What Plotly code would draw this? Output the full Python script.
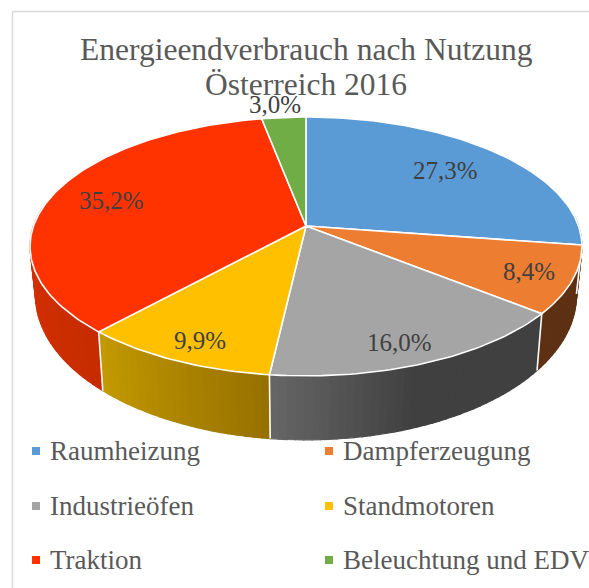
import numpy as np
import plotly.graph_objects as go

# ---- data ----
categories = ["Raumheizung", "Dampferzeugung", "Industrieöfen", "Standmotoren", "Traktion", "Beleuchtung und EDV"]
values = [27.3, 8.4, 16.0, 9.9, 35.2, 3.0]
title_lines = ["Energieendverbrauch nach Nutzung", "Österreich 2016"]

# ---- styles ----
top_colors = ["#5B9BD5", "#ED7D31", "#A5A5A5", "#FFC000", "#FF3300", "#70AD47"]
side_start = ["#375D80", "#5E3114", "#404040", "#967000", "#C62C00", "#43682B"]   # clockwise start of slice
side_end = ["#375D80", "#5E3114", "#666666", "#C49A00", "#D83200", "#43682B"]     # clockwise end of slice
label_pos = [(445.5, 170), (528.5, 271), (399.5, 342), (200, 340), (111, 200), (274.5, 104)]
title_pos = [(306, 49), (306, 84)]
legend_x = [36, 329]
legend_y = [451, 506, 560]
TEXT = "#595959"
LABEL = "#404040"
FONT = "Liberation Serif"

# projection of the tilted disc
CX, CY, R, B, K = 306.0, 226.0, 272.5, 126.2, 0.158
F, G, D = 0.98, 1.116, 46.6


def top(t):
    X, Y = np.sin(t), -np.cos(t)
    s = 1 / (1 - K * Y)
    return CX + R * X * s, CY + B * Y * s


def bottom(t):
    X, Y = np.sin(t), -np.cos(t)
    s = 1 / (1 - K * Y)
    return CX + F * R * X * s, CY + D + G * B * Y * s


def hexrgb(h):
    return np.array([int(h[i:i + 2], 16) for i in (1, 3, 5)], float)


def mix(a, b, u):
    c = hexrgb(a) * (1 - u) + hexrgb(b) * u
    return "rgb(%d,%d,%d)" % tuple(c.round())


fig = go.Figure()


def poly(xs, ys, color, line=None, width=1.2):
    fig.add_trace(go.Scatter(x=list(xs), y=list(ys), mode="lines", fill="toself", fillcolor=color,
                             line=dict(color=line or color, width=width), hoverinfo="skip", showlegend=False))


frac = np.array(values) / sum(values)
edges = np.concatenate([[0], np.cumsum(frac)]) * 2 * np.pi
FRONT_A, FRONT_B = np.radians(84), np.radians(279)

# side wall, painted as thin shaded strips
for i in range(len(values)):
    a, b = max(edges[i], FRONT_A), min(edges[i + 1], FRONT_B)
    if b <= a:
        continue
    n = max(2, int(np.degrees(b - a) / 1.5))
    ts = np.linspace(a, b, n + 1)
    for j in range(n):
        u = (j + 0.5) / n
        if i == 2:
            u = max(0.0, (u - 0.55) / 0.45)
        tt = np.linspace(ts[j], ts[j + 1], 3)
        x1, y1 = top(tt)
        x2, y2 = bottom(tt[::-1])
        poly(np.r_[x1, x2, x1[0]], np.r_[y1, y2, y1[0]], mix(side_start[i], side_end[i], u))

# white dividers on the side wall
for e in edges[1:-1]:
    if FRONT_A < e < FRONT_B:
        x1, y1 = top(e)
        x2, y2 = bottom(e)
        fig.add_trace(go.Scatter(x=[x1, x2], y=[y1, y2], mode="lines", line=dict(color="white", width=1.6),
                                 hoverinfo="skip", showlegend=False))

# top face
for i in range(len(values)):
    tt = np.linspace(edges[i], edges[i + 1], max(3, int(np.degrees(edges[i + 1] - edges[i]))))
    x, y = top(tt)
    poly(np.r_[CX, x, CX], np.r_[CY, y, CY], top_colors[i], line="white", width=1.6)

# legend markers
mx = [legend_x[i % 2] for i in range(6)]
my = [legend_y[i // 2] for i in range(6)]
fig.add_trace(go.Scatter(x=mx, y=my, mode="markers", marker=dict(symbol="square", size=8, color=top_colors),
                         hoverinfo="skip", showlegend=False))

ann = []
for line, (px, py) in zip(title_lines, title_pos):
    ann.append(dict(x=px, y=py, xref="x", yref="y", text=line, showarrow=False,
                    font=dict(family=FONT, size=31.5, color=TEXT)))
for v, (px, py) in zip(values, label_pos):
    ann.append(dict(x=px, y=py, xref="x", yref="y", text=f"{v:.1f}%".replace(".", ","), showarrow=False,
                    font=dict(family=FONT, size=25, color=LABEL)))
for c, px, py in zip(categories, mx, my):
    ann.append(dict(x=px + 12, y=py, xref="x", yref="y", text=c, showarrow=False, xanchor="left",
                    font=dict(family=FONT, size=27, color=TEXT)))

fig.update_layout(
    width=589, height=588, margin=dict(l=0, r=0, t=0, b=0),
    paper_bgcolor="white", plot_bgcolor="white", showlegend=False,
    xaxis=dict(range=[0, 589], visible=False, fixedrange=True),
    yaxis=dict(range=[588, 0], visible=False, fixedrange=True),
    annotations=ann,
    shapes=[
        dict(type="line", xref="x", yref="y", x0=12.5, x1=12.5, y0=11.5, y1=588, line=dict(color="#D9D9D9", width=1.5)),
        dict(type="line", xref="x", yref="y", x0=12.5, x1=589, y0=11.5, y1=11.5, line=dict(color="#D9D9D9", width=1.5)),
    ],
)
fig.write_html("out.html", config={"displayModeBar": False},
               post_script="document.body.style.margin='0';document.documentElement.style.overflow='hidden';")
